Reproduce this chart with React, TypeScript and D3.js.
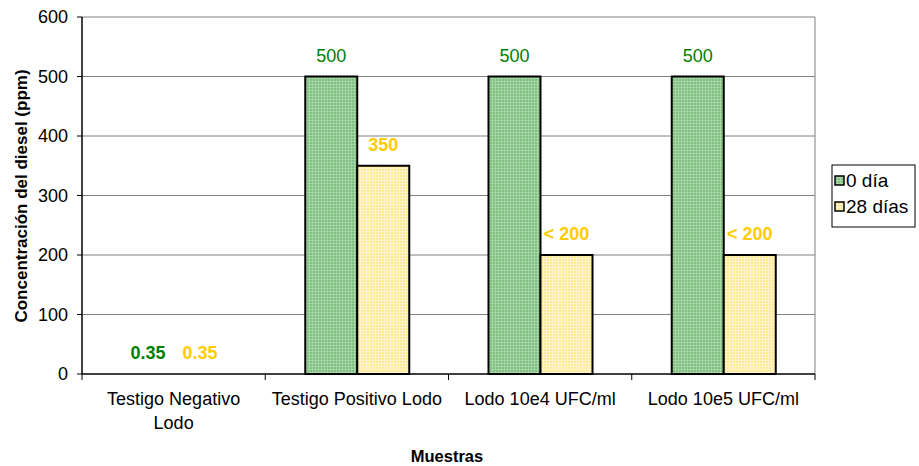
import React from "react";
import * as d3 from "d3";

const categories = [["Testigo Negativo", "Lodo"], ["Testigo Positivo Lodo"], ["Lodo 10e4 UFC/ml"], ["Lodo 10e5 UFC/ml"]];
const day0 = [0.35, 500, 500, 500];
const day28 = [0.35, 350, 200, 200];
const labels0 = ["0.35", "500", "500", "500"];
const labels28 = ["0.35", "350", "< 200", "< 200"];
const seriesNames = ["0 día", "28 días"];
const yTicks = [0, 100, 200, 300, 400, 500, 600];

const W = 919, H = 466;
const left = 82, right = 815, top = 17, bottom = 374;

export default function App() {
  const x = d3.scaleBand<number>().domain(d3.range(categories.length)).range([left, right]).paddingInner(0).paddingOuter(0);
  const y = d3.scaleLinear().domain([0, 600]).range([bottom, top]);
  const bw = 52;
  const off = 40;
  const font = "'Liberation Sans', Arial, sans-serif";
  return (
    <svg width={W} height={H} style={{ position: "absolute", left: 0, top: 0, fontFamily: font }}>
      <defs>
        <pattern id="pg" width="3" height="3" patternUnits="userSpaceOnUse">
          <rect width="3" height="3" fill="#7fbf7f" />
          <rect width="3" height="1" fill="#a5d5a5" />
          <rect width="1" height="3" fill="#a5d5a5" />
        </pattern>
        <pattern id="py" width="3" height="3" patternUnits="userSpaceOnUse">
          <rect width="3" height="3" fill="#ffe896" />
          <rect width="3" height="1" fill="#fff5cc" />
          <rect width="1" height="3" fill="#fff5cc" />
        </pattern>
      </defs>
      <rect width={W} height={H} fill="#fff" />
      {yTicks.map((t) => (
        <g key={t}>
          {t > 0 && <line x1={left} x2={right} y1={y(t)} y2={y(t)} stroke="#808080" strokeWidth={1} />}
          <line x1={left - 5} x2={left} y1={y(t)} y2={y(t)} stroke="#000" />
          <text x={68} y={y(t) + 6} fontSize={18} textAnchor="end">{t}</text>
        </g>
      ))}
      <line x1={right} x2={right} y1={top} y2={bottom} stroke="#808080" />
      {categories.map((c, i) => {
        const x0 = (x(i) as number) + off;
        return (
          <g key={i}>
            {day0[i] > 1 && <rect x={x0} y={y(day0[i])} width={bw} height={bottom - y(day0[i])} fill="url(#pg)" stroke="#000" strokeWidth={2} />}
            {day28[i] > 1 && <rect x={x0 + bw} y={y(day28[i])} width={bw} height={bottom - y(day28[i])} fill="url(#py)" stroke="#000" strokeWidth={2} />}
            <text x={x0 + bw / 2} y={y(day0[i]) - 15} fontSize={18} fill="#008000" fontWeight={day0[i] > 1 ? "normal" : "bold"} textAnchor="middle">{labels0[i]}</text>
            <text x={x0 + bw * 1.5} y={y(day28[i]) - 15} fontSize={18} fill="#ffcc00" fontWeight="bold" textAnchor="middle">{labels28[i]}</text>
            {c.map((line, j) => (
              <text key={j} x={(x(i) as number) + x.bandwidth() / 2} y={405 + j * 24} fontSize={18} textAnchor="middle">{line}</text>
            ))}
          </g>
        );
      })}
      <line x1={left} x2={right} y1={bottom} y2={bottom} stroke="#000" strokeWidth={1.5} />
      <line x1={left} x2={left} y1={top} y2={bottom} stroke="#000" strokeWidth={1.5} />
      {d3.range(categories.length + 1).map((i) => {
        const xx = left + i * x.bandwidth();
        return <line key={i} x1={xx} x2={xx} y1={bottom} y2={bottom + 6} stroke="#000" />;
      })}
      <text x={447} y={462} fontSize={16.5} fontWeight="bold" textAnchor="middle">Muestras</text>
      <text transform={`translate(27,196) rotate(-90)`} fontSize={17} fontWeight="bold" textAnchor="middle">Concentración del diesel (ppm)</text>
      <rect x={832} y={165} width={83} height={62} fill="#fff" stroke="#000" />
      {seriesNames.map((s, i) => (
        <g key={s}>
          <rect x={835} y={176 + i * 26} width={9} height={9} fill={i === 0 ? "url(#pg)" : "url(#py)"} stroke="#000" strokeWidth={1.5} />
          <text x={846} y={187 + i * 26} fontSize={19}>{s}</text>
        </g>
      ))}
    </svg>
  );
}
